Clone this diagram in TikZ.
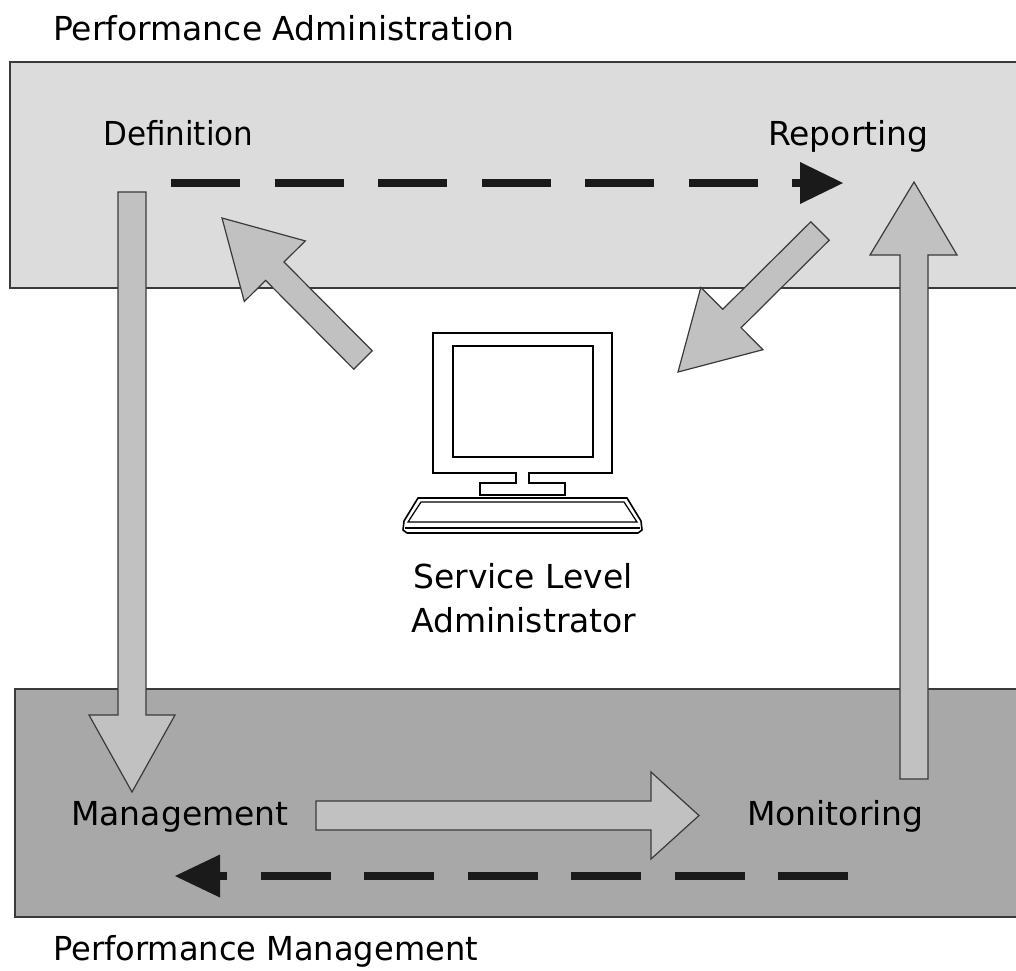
\documentclass[tikz,border=0pt]{standalone}
\usepackage{fontspec}
\setmainfont{DejaVu Sans}
\definecolor{topfill}{HTML}{DCDCDC}
\definecolor{botfill}{HTML}{A8A8A8}
\definecolor{arrowfill}{HTML}{C1C1C1}
\definecolor{arrowline}{HTML}{3A3A3A}
\definecolor{boxline}{HTML}{3A3A3A}
\definecolor{dashcol}{HTML}{1A1A1A}
\begin{document}
\begin{tikzpicture}[x=1pt,y=-1pt,
  lbl/.style={inner sep=0pt,anchor=base west,font=\fontsize{33}{40}\selectfont},
  clbl/.style={inner sep=0pt,anchor=base,font=\fontsize{33}{40}\selectfont},
  panel/.style={draw=boxline,line width=1.5pt},
  blockarrow/.style={fill=arrowfill,draw=arrowline,line width=1.2pt,line join=miter},
  dashline/.style={draw=dashcol,line width=8pt},
  dashhead/.style={fill=dashcol},
  pc/.style={draw=black,line width=1.6pt,fill=white,line join=miter}]
\useasboundingbox (0,0) rectangle (1016,970);
\fill[white] (0,0) rectangle (1016,970);
% panels
\draw[panel,fill=topfill] (10,62) rectangle (1030,288);
\draw[panel,fill=botfill] (15,689) rectangle (1030,917);
% titles
\node[lbl] (tA) at (53,40) {Performance Administration};
\node[lbl] (tM) at (53,960) {\scalebox{0.972}[1]{Performance Management}};
% labels
\node[lbl] (def) at (103,145) {\scalebox{0.94}[1]{Definition}};
\node[lbl] (rep) at (768,145) {Reporting};
\node[lbl] (man) at (71,825) {Management};
\node[lbl] (mon) at (747,825) {Monitoring};
\node[clbl] (sl1) at (523,588) {Service Level};
\node[clbl] (sl2) at (524,632) {Administrator};
% block arrows
\draw[blockarrow] (118,192) -- (146,192) -- (146,715) -- (175,715) -- (132,792) -- (89,715) -- (118,715) -- cycle;
\draw[blockarrow] (900,779) -- (928,779) -- (928,255) -- (957,255) -- (914,182) -- (870,255) -- (900,255) -- cycle;
\draw[blockarrow] (316,801) -- (651,801) -- (651,772) -- (699,815.5) -- (651,859) -- (651,830) -- (316,830) -- cycle;
\draw[blockarrow] (372.2,350.8) -- (284.0,262.0) -- (305.3,240.9) -- (222,218) -- (244.3,301.5) -- (265.6,280.4) -- (353.8,369.2) -- cycle;
\draw[blockarrow] (829.2,240.2) -- (741.1,327.7) -- (762.9,349.7) -- (678,372) -- (700.9,287.3) -- (722.7,309.3) -- (810.8,221.8) -- cycle;
% dashed arrows
\coordinate (ds1) at (171,183);
\coordinate (de1) at (800,183);
\draw[dashline,dash pattern=on 69pt off 34.5pt] (ds1) -- (de1);
\fill[dashhead] (800,162) -- (843,183) -- (800,204) -- cycle;
\coordinate (ds2) at (848,876);
\coordinate (de2) at (220,876);
\draw[dashline,dash pattern=on 70pt off 33.5pt] (ds2) -- (de2);
\fill[dashhead] (220,854.5) -- (175,876) -- (220,897.5) -- cycle;
% computer
\draw[pc] (433,333) -- (612,333) -- (612,473) -- (529,473) -- (529,483) -- (565,483) -- (565,495) -- (480,495) -- (480,483) -- (516,483) -- (516,473) -- (433,473) -- cycle;
\draw[pc] (453,346) rectangle (593,457);
\draw[pc,line join=round] (418,498) -- (627,498) -- (641,521) -- (642,530) -- (638,533) -- (407,533) -- (403,530) -- (404,521) -- cycle;
\draw[draw=black,line width=1.2pt] (421,502) -- (624,502) -- (637,522) -- (408,522) -- cycle;
\draw[draw=black,line width=1.2pt] (405,528) -- (640,528);
\end{tikzpicture}
\end{document}
